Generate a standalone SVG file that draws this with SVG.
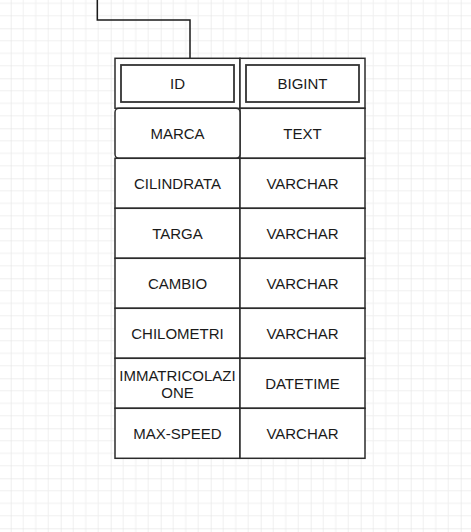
<svg xmlns="http://www.w3.org/2000/svg" width="471" height="532" viewBox="0 0 471 532">
<style>
.cell{fill:#fff;stroke:#2b2b2b;stroke-width:1.5}
.inner{fill:#fff;stroke:#333;stroke-width:1.8}
.t{font-family:"Liberation Sans",Arial,sans-serif;font-size:15px;fill:#1a1a1a;text-anchor:middle;dominant-baseline:central}
.conn{fill:none;stroke:#1a1a1a;stroke-width:1.5}
</style>
<defs>
<pattern id="grid" patternUnits="userSpaceOnUse" x="10.7" y="28.3" width="50" height="50">
<path d="M12.5 0V50M25 0V50M37.5 0V50M0 12.5H50M0 25H50M0 37.5H50" stroke="#f0f0f0" stroke-width="1" fill="none"/>
<path d="M0 0V50M0 0H50" stroke="#dedede" stroke-width="1" fill="none"/>
</pattern>
</defs>
<rect width="471" height="532" fill="#fff"/>
<rect width="471" height="532" fill="url(#grid)"/>
<g id="connectors">
<path class="conn" d="M97.3 0V20H190V58"/>
</g>
<g id="row-id">
<rect class="cell" x="115" y="58.3" width="125" height="50"/>
<rect class="inner" x="121" y="65" width="113" height="37"/>
<text class="t" x="177.5" y="83.5">ID</text>
</g>
<g id="row-id-type">
<rect class="cell" x="240" y="58.3" width="125" height="50"/>
<rect class="inner" x="246" y="65" width="113" height="37"/>
<text class="t" x="302.5" y="83.5">BIGINT</text>
</g>
<g id="row-marca">
<rect class="cell" x="240" y="108.3" width="125" height="50"/>
<rect class="cell" x="115" y="108.3" width="125" height="50" rx="4"/>
<text class="t" x="177.5" y="133.5">MARCA</text>
<text class="t" x="302.5" y="133.5">TEXT</text>
</g>
<g id="row-cilindrata">
<rect class="cell" x="115" y="158.3" width="125" height="50"/>
<rect class="cell" x="240" y="158.3" width="125" height="50"/>
<text class="t" x="177.5" y="183.5">CILINDRATA</text>
<text class="t" x="302.5" y="183.5">VARCHAR</text>
</g>
<g id="row-targa">
<rect class="cell" x="115" y="208.3" width="125" height="50"/>
<rect class="cell" x="240" y="208.3" width="125" height="50"/>
<text class="t" x="177.5" y="233.5">TARGA</text>
<text class="t" x="302.5" y="233.5">VARCHAR</text>
</g>
<g id="row-cambio">
<rect class="cell" x="115" y="258.3" width="125" height="50"/>
<rect class="cell" x="240" y="258.3" width="125" height="50"/>
<text class="t" x="177.5" y="283.5">CAMBIO</text>
<text class="t" x="302.5" y="283.5">VARCHAR</text>
</g>
<g id="row-chilometri">
<rect class="cell" x="115" y="308.3" width="125" height="50"/>
<rect class="cell" x="240" y="308.3" width="125" height="50"/>
<text class="t" x="177.5" y="333.5">CHILOMETRI</text>
<text class="t" x="302.5" y="333.5">VARCHAR</text>
</g>
<g id="row-immatricolazione">
<rect class="cell" x="115" y="358.3" width="125" height="50"/>
<rect class="cell" x="240" y="358.3" width="125" height="50"/>
<text class="t" x="177.5" y="375">IMMATRICOLAZI</text>
<text class="t" x="177.5" y="392.5">ONE</text>
<text class="t" x="302.5" y="383.5">DATETIME</text>
</g>
<g id="row-maxspeed">
<rect class="cell" x="115" y="408.3" width="125" height="50"/>
<rect class="cell" x="240" y="408.3" width="125" height="50"/>
<text class="t" x="177.5" y="433.5">MAX-SPEED</text>
<text class="t" x="302.5" y="433.5">VARCHAR</text>
</g>
</svg>
